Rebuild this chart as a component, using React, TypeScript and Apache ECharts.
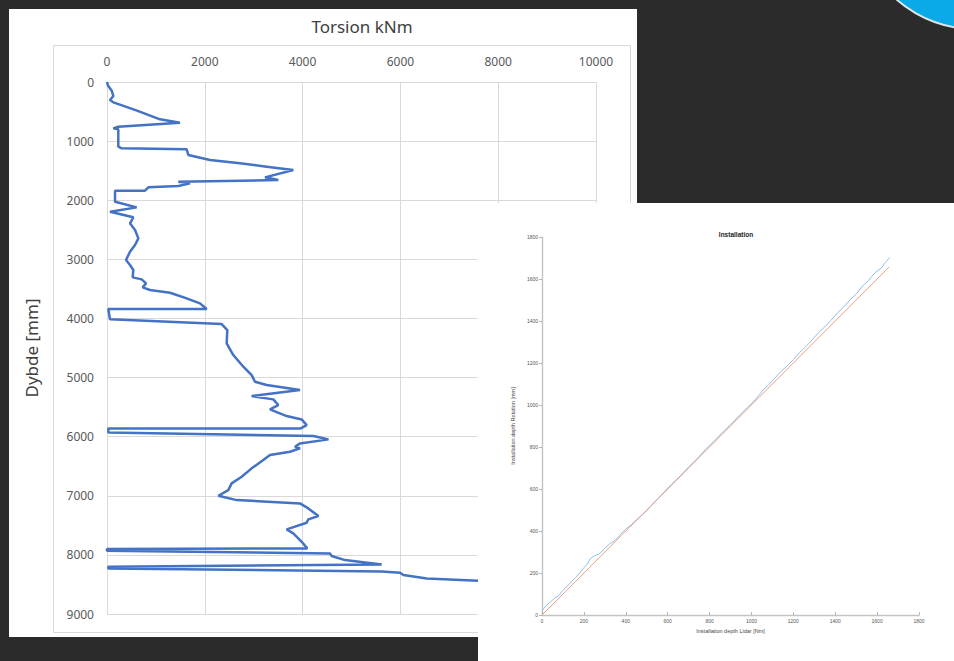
import React, { useEffect, useRef } from "react";
import * as echarts from "echarts";

// Torsion chart: [torsion kNm, depth mm]
const torsionDepth: number[][] = [
  [0, 0], [20, 60], [96, 147], [130, 237], [61, 305], [130, 344],
  [600, 480], [1084, 631], [1493, 688], [231, 756], [130, 784], [231, 800],
  [231, 1094], [300, 1122], [1629, 1139], [1663, 1235], [2106, 1320],
  [2720, 1376], [3265, 1432], [3810, 1489], [3231, 1613], [3503, 1658],
  [1459, 1686], [1697, 1715], [1459, 1760], [846, 1782], [777, 1839],
  [164, 1839], [164, 2025], [607, 2121], [61, 2194], [538, 2289],
  [470, 2391], [573, 2504], [641, 2645], [573, 2758], [470, 2871],
  [389, 3012], [470, 3096], [538, 3181], [525, 3305], [709, 3339],
  [798, 3406], [730, 3474], [879, 3519], [1288, 3565], [1629, 3660],
  [1902, 3745], [2038, 3841], [27, 3841], [61, 4015], [2345, 4095],
  [2460, 4196], [2447, 4422], [2583, 4619], [2788, 4817], [2958, 4958],
  [3026, 5071], [3265, 5127], [3947, 5212], [2958, 5313], [3401, 5369],
  [3503, 5465], [3333, 5538], [3674, 5651], [3981, 5708], [4083, 5804],
  [3961, 5860], [27, 5860], [27, 5928], [4219, 5990], [4529, 6046],
  [3947, 6114], [3845, 6170], [3947, 6198], [3742, 6255], [3333, 6311],
  [3196, 6396], [2958, 6536], [2754, 6678], [2549, 6790], [2481, 6904],
  [2277, 7000], [2652, 7073], [3947, 7129], [4117, 7214], [4322, 7343],
  [4117, 7399], [4083, 7456], [3674, 7569], [3810, 7637], [3981, 7778],
  [4096, 7890], [0, 7902], [0, 7930], [4560, 7975], [4594, 8020],
  [4867, 8088], [5617, 8161], [27, 8201], [27, 8229], [5617, 8279],
  [5992, 8302], [6060, 8342], [6538, 8398], [7587, 8438], [8600, 8470],
  [9600, 8500],
];
const torsionTicksX = [0, 2000, 4000, 6000, 8000, 10000];
const depthTicks = [0, 1000, 2000, 3000, 4000, 5000, 6000, 7000, 8000, 9000];

// Installation chart: lidar depth vs rotation depth
const lidar: number[] = [
  0, 20, 40, 60, 80, 100, 120, 140, 160, 180, 200, 215, 230, 250, 275,
  300, 325, 350, 375, 400, 425, 450, 480, 500, 540, 580, 620, 660, 700,
  740, 780, 820, 860, 900, 940, 980, 1010, 1040, 1060, 1080, 1110, 1140,
  1170, 1200, 1230, 1260, 1290, 1320, 1350, 1380, 1410, 1440, 1470, 1500,
  1530, 1560, 1590, 1620, 1640, 1660,
];
const rotation: number[] = [
  22, 45, 62, 80, 92, 118, 136, 158, 178, 200, 226, 240, 268, 282, 292,
  318, 340, 356, 384, 410, 428, 452, 478, 496, 540, 582, 624, 662, 705,
  744, 788, 826, 868, 906, 948, 988, 1016, 1052, 1076, 1094, 1126, 1158,
  1186, 1216, 1250, 1278, 1310, 1344, 1372, 1404, 1438, 1466, 1500, 1528,
  1566, 1594, 1630, 1652, 1680, 1702,
];
const reference: number[] = [0, 1657];
const referenceX: number[] = [0, 1657];

const FONT = "'Noto Sans', 'Open Sans', sans-serif";

export default function App() {
  const mainRef = useRef<HTMLDivElement>(null);
  const insetRef = useRef<HTMLDivElement>(null);

  useEffect(() => {
    if (!mainRef.current || !insetRef.current) return;
    const main = echarts.init(mainRef.current, undefined, { renderer: "svg" });
    const inset = echarts.init(insetRef.current, undefined, { renderer: "svg" });
    const plain = (v: number) => String(v);

    main.setOption({
      animation: false,
      backgroundColor: "#2b2b2b",
      textStyle: { fontFamily: FONT },
      graphic: [
        {
          type: "rect",
          z: 0,
          shape: { x: 9, y: 9, width: 628, height: 628 },
          style: { fill: "#ffffff" },
        },
        {
          type: "rect",
          z: 0,
          shape: { x: 53.5, y: 45.5, width: 577, height: 587 },
          style: { fill: "none", stroke: "#d9d9d9", lineWidth: 1 },
        },
        {
          type: "circle",
          z: 0,
          shape: { cx: 975, cy: -90, r: 119 },
          style: { fill: "#0aa9e8", stroke: "#dfe6ea", lineWidth: 2 },
        },
      ],
      title: {
        text: "Torsion kNm",
        left: 357,
        top: 13,
        textAlign: "center",
        z: 8,
        textStyle: {
          fontFamily: FONT,
          fontSize: 17,
          fontWeight: "normal",
          color: "#404040",
        },
      },
      grid: { left: 107, top: 82, width: 489, height: 532 },
      xAxis: {
        type: "value",
        position: "top",
        min: torsionTicksX[0],
        max: torsionTicksX[torsionTicksX.length - 1],
        interval: 2000,
        z: 3,
        axisLine: { show: true, lineStyle: { color: "#d9d9d9", width: 1 } },
        axisTick: { show: false },
        axisLabel: { color: "#595959", fontSize: 12, margin: 15, fontFamily: FONT, formatter: plain },
        splitLine: { show: true, lineStyle: { color: "#d9d9d9", width: 1 } },
      },
      yAxis: {
        type: "value",
        inverse: true,
        min: depthTicks[0],
        max: depthTicks[depthTicks.length - 1],
        interval: 1000,
        z: 3,
        name: "Dybde [mm]",
        nameLocation: "middle",
        nameRotate: 90,
        nameGap: 67,
        nameTextStyle: { fontSize: 17, color: "#404040", fontFamily: FONT },
        axisLine: { show: true, lineStyle: { color: "#d9d9d9", width: 1 } },
        axisTick: { show: false },
        axisLabel: { color: "#595959", fontSize: 12, margin: 13, fontFamily: FONT, formatter: plain },
        splitLine: { show: true, lineStyle: { color: "#d9d9d9", width: 1 } },
      },
      series: [
        {
          type: "line",
          z: 5,
          data: torsionDepth,
          showSymbol: false,
          clip: true,
          lineStyle: { color: "#4472c4", width: 2.5 },
        },
      ],
    });

    inset.setOption({
      animation: false,
      backgroundColor: "#ffffff",
      textStyle: { fontFamily: "'Liberation Sans', Arial, sans-serif" },
      title: {
        text: "Installation",
        left: 253,
        top: 23,
        textAlign: "center",
        textStyle: {
          fontFamily: "'Liberation Sans', Arial, sans-serif",
          fontSize: 6.5,
          fontWeight: "bold",
          color: "#222222",
        },
      },
      grid: { left: 64, top: 34, width: 377, height: 378 },
      xAxis: {
        type: "value",
        min: 0,
        max: 1800,
        interval: 200,
        name: "Installation depth Lidar [Nm]",
        nameLocation: "middle",
        nameGap: 11,
        nameTextStyle: { fontSize: 5.5, color: "#444444" },
        axisLine: { show: true, lineStyle: { color: "#c4c4c4", width: 1.4 } },
        axisTick: { show: true, inside: true, length: 3, lineStyle: { color: "#9a9a9a", width: 0.7 } },
        axisLabel: { fontSize: 5, color: "#555555", margin: 3, formatter: plain },
        splitLine: { show: false },
      },
      yAxis: {
        type: "value",
        min: 0,
        max: 1800,
        interval: 200,
        name: "Installation depth Rotation [mm]",
        nameLocation: "middle",
        nameRotate: 90,
        nameGap: 18,
        nameTextStyle: { fontSize: 5.5, color: "#444444" },
        axisLine: { show: true, lineStyle: { color: "#c4c4c4", width: 1.4 } },
        axisTick: { show: true, inside: false, length: 3, lineStyle: { color: "#9a9a9a", width: 0.7 } },
        axisLabel: { fontSize: 5, color: "#555555", margin: 4, formatter: plain },
        splitLine: { show: false },
      },
      series: [
        {
          type: "line",
          data: lidar.map((x, i) => [x, rotation[i]]),
          showSymbol: false,
          lineStyle: { color: "#8cc0ec", width: 1 },
        },
        {
          type: "line",
          data: referenceX.map((x, i) => [x, reference[i]]),
          showSymbol: false,
          lineStyle: { color: "#ee9f7e", width: 1 },
        },
      ],
    });

    return () => {
      main.dispose();
      inset.dispose();
    };
  }, []);

  return (
    <div style={{ position: "fixed", left: 0, top: 0, width: 954, height: 661, overflow: "hidden" }}>
      <div ref={mainRef} style={{ position: "absolute", left: 0, top: 0, width: 954, height: 661 }} />
      <div ref={insetRef} style={{ position: "absolute", left: 478, top: 203, width: 476, height: 458 }} />
    </div>
  );
}
